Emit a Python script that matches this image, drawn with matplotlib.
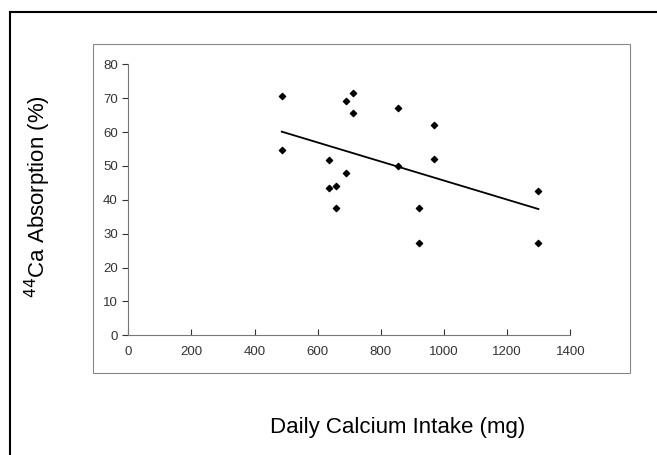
import matplotlib.pyplot as plt
import numpy as np
from matplotlib.patches import Rectangle
from matplotlib.lines import Line2D

# daily calcium intake (mg) vs 44Ca absorption (%)
intake = [486, 486, 636, 636, 657, 657, 690, 690, 712, 712,
          855, 855, 922, 922, 968, 968, 1299, 1299]
absorption = [70.7, 54.8, 51.7, 43.5, 44.0, 37.5, 69.3, 47.8, 71.6, 65.5,
              67.0, 50.0, 37.5, 27.2, 62.2, 51.9, 42.5, 27.2]

x_ticks = [0, 200, 400, 600, 800, 1000, 1200, 1400]
y_ticks = [0, 10, 20, 30, 40, 50, 60, 70, 80]

plt.rcParams['font.family'] = ['Liberation Sans', 'DejaVu Sans']

W, H = 657, 455
fig = plt.figure(figsize=(W / 100, H / 100), dpi=100)

# outer frame (left and top only, picture is cropped)
fig.add_artist(Line2D([10 / W, 10 / W], [0, 1 - 12 / H], transform=fig.transFigure,
                      color='black', lw=1.5))
fig.add_artist(Line2D([10 / W, 1], [1 - 12 / H, 1 - 12 / H], transform=fig.transFigure,
                      color='black', lw=1.5))

# plot area box
fig.add_artist(Rectangle((93 / W, 1 - 373 / H), (630 - 93) / W, (373 - 44) / H,
                         transform=fig.transFigure, fill=False,
                         edgecolor='#888888', lw=0.8))

x0, x1 = 128.3, 570.3
y0, y1 = 335.3, 64.3
ax = fig.add_axes([x0 / W, 1 - y0 / H, (x1 - x0) / W, (y0 - y1) / H])

ax.scatter(intake, absorption, marker='D', s=10, color='black', zorder=3)

# linear trend line
k, b = np.polyfit(intake, absorption, 1)
xs = np.array([min(intake), max(intake)])
ax.plot(xs, k * xs + b, color='black', lw=1.3)

ax.set_xlim(0, 1400)
ax.set_ylim(0, 80)
ax.set_xticks(x_ticks)
ax.set_yticks(y_ticks)
ax.tick_params(axis='both', labelsize=9.5, colors='#333333', length=4, width=0.8)
ax.tick_params(axis='x', direction='in', pad=8)
ax.tick_params(axis='y', direction='out')
for s in ['top', 'right']:
    ax.spines[s].set_visible(False)
for s in ['left', 'bottom']:
    ax.spines[s].set_color('#777777')
    ax.spines[s].set_linewidth(0.8)

fig.text(398 / W, 1 - 428 / H, 'Daily Calcium Intake (mg)', fontsize=16,
         ha='center', va='center')
fig.text(38 / W, 1 - 197 / H, r'$^{44}$Ca Absorption (%)', fontsize=16,
         ha='center', va='center', rotation=90)

fig.savefig('out.png', dpi=100)
